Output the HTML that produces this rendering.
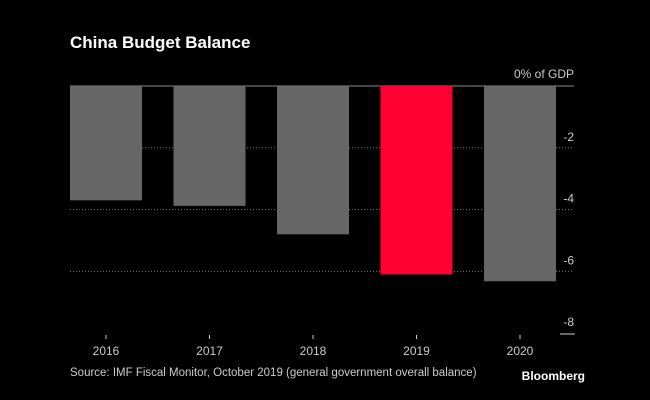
<!DOCTYPE html>
<html><head><style>
body{margin:0;background:#000;width:650px;height:400px;overflow:hidden}
svg{display:block;font-family:"Liberation Sans",sans-serif}
</style></head><body>
<svg id="chart" width="650" height="400">
<text x="70" y="48" fill="#fff" font-size="17" font-weight="bold">China Budget Balance</text>
<text x="574" y="78" fill="#ccc" font-size="12" text-anchor="end">0% of GDP</text>
<g id="grid"></g><g id="bars"></g><g id="xaxis"></g>
<line x1="560" x2="575" y1="334" y2="334" stroke="#ccc" stroke-width="1"/>
<text x="70" y="376" fill="#ccc" font-size="11.5">Source: IMF Fiscal Monitor, October 2019 (general government overall balance)</text>
<text x="585" y="380" fill="#fff" font-size="12" font-weight="bold" text-anchor="end">Bloomberg</text>
</svg>
<script>
const categories=["2016","2017","2018","2019","2020"];
const values=[-3.7,-3.88,-4.8,-6.1,-6.32];
const highlight=[false,false,false,true,false];
const ticks=[-2,-4,-6,-8];
const NS="http://www.w3.org/2000/svg";
const y0=86,unit=30.9,left=70,pitch=103.5,bw=72;
const y=v=>y0-v*unit;
const x=i=>left+i*pitch;
function mk(t,a,p){const e=document.createElementNS(NS,t);for(const k in a)e.setAttribute(k,a[k]);p.appendChild(e);return e;}
const grid=document.getElementById('grid'),bars=document.getElementById('bars'),xa=document.getElementById('xaxis');
ticks.forEach(t=>{
  if(t!==-8){const l=mk('line',{x1:left,x2:574,y1:y(t),y2:y(t),stroke:'#777','stroke-dasharray':'1,2'},grid);
  
  }
  const tx=mk('text',{x:574,y:y(t)-7,fill:'#ccc','font-size':12,'text-anchor':'end'},grid);
  tx.textContent=String(t);
  
  
});
values.forEach((v,i)=>{
  const r=mk('rect',{x:x(i),y:y0,width:bw,height:y(v)-y0,fill:highlight[i]?'#ff0033':'#666'},bars);
  
  
  const tk=mk('line',{x1:x(i)+bw/2,x2:x(i)+bw/2,y1:335,y2:339,stroke:'#ccc'},xa);
  
  
  const t=mk('text',{x:x(i)+bw/2,y:355,fill:'#ccc','font-size':12,'text-anchor':'middle'},xa);
  t.textContent=categories[i];
  
  
});
const z=mk('line',{x1:left,x2:574,y1:y0,y2:y0,stroke:'#888'},grid);


</script>
</body></html>
